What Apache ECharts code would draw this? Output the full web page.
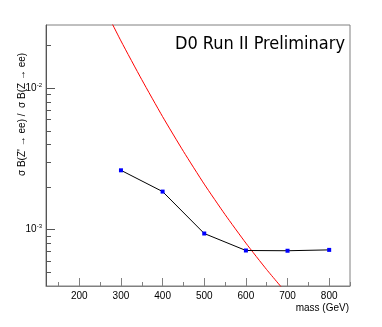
<!DOCTYPE html>
<html>
<head>
<meta charset="utf-8">
<script src="https://cdn.jsdelivr.net/npm/echarts@6/dist/echarts.min.js"></script>
<style>
  html, body { margin: 0; padding: 0; background: #fff; }
  #chart { width: 382px; height: 327px; }
</style>
</head>
<body>
<div id="chart"></div>
<script>
// limit points (blue markers, black line)
const massPoints = [300, 400, 500, 600, 700, 800];
const limitValues = [2.63e-3, 1.86e-3, 9.4e-4, 7.13e-4, 7.1e-4, 7.2e-4];

// theory curve (red)
const theoryMass = [250, 300, 350, 400, 450, 500, 550, 600, 650, 700];
const theoryValues = [0.0422, 0.0216, 0.0115, 6.30e-3, 3.58e-3, 2.10e-3, 1.28e-3, 8.04e-4, 5.22e-4, 3.49e-4];

// axis ticks / labels
const xMajor = [200, 300, 400, 500, 600, 700, 800];
const xMinor = [150, 250, 350, 450, 550, 650, 750, 850];
const yMajor = [1e-3, 1e-2];
const yMinor = [5e-4, 6e-4, 7e-4, 8e-4, 9e-4, 2e-3, 3e-3, 4e-3, 5e-3, 6e-3, 7e-3, 8e-3, 9e-3, 2e-2];

const chart = echarts.init(document.getElementById('chart'));
const axisColor = '#808080';
const font = 'Liberation Sans, Arial, sans-serif';

const xBase = {
  type: 'value', min: 120, max: 850, position: 'bottom',
  splitLine: { show: false }
};
const yBase = {
  type: 'log', logBase: 10, min: 4e-4, max: 0.028, position: 'left',
  splitLine: { show: false }, minorTick: { show: false }
};

const option = {
  animation: false,
  grid: {
    left: 46, top: 25, right: 32, bottom: 41,
    show: true, borderColor: axisColor, borderWidth: 1, backgroundColor: 'transparent'
  },
  xAxis: [
    Object.assign({}, xBase, {
      axisLine: { show: true, lineStyle: { color: axisColor, width: 1 } },
      axisTick: { show: true, inside: true, length: 4, customValues: xMinor, lineStyle: { color: axisColor } },
      axisLabel: { customValues: xMajor, color: '#000', fontSize: 10, fontFamily: font, margin: 5 }
    }),
    Object.assign({}, xBase, {
      axisLine: { show: false },
      axisTick: { show: true, inside: true, length: 8, customValues: xMajor, lineStyle: { color: axisColor } },
      axisLabel: { show: false }
    })
  ],
  yAxis: [
    Object.assign({}, yBase, {
      axisLine: { show: true, lineStyle: { color: '#555', width: 1 } },
      axisTick: { show: true, inside: true, length: 5, customValues: yMinor, lineStyle: { color: '#555' } },
      axisLabel: {
        customValues: yMajor, margin: 4,
        formatter: function (v) {
          return '{b|10}{s|' + Math.round(Math.log10(v)) + '}';
        },
        rich: {
          b: { fontSize: 10, fontFamily: font, color: '#000' },
          s: { fontSize: 6, fontFamily: font, color: '#000', verticalAlign: 'top', padding: [0, 0, 6, 0] }
        }
      }
    }),
    Object.assign({}, yBase, {
      axisLine: { show: false },
      axisTick: { show: true, inside: true, length: 9, customValues: yMajor, lineStyle: { color: '#555' } },
      axisLabel: { show: false }
    })
  ],
  series: [
    {
      name: 'theory', type: 'line', xAxisIndex: 0, yAxisIndex: 0,
      data: theoryMass.map((m, i) => [m, theoryValues[i]]),
      showSymbol: false, symbol: 'none', clip: true, smooth: 0.2,
      lineStyle: { color: '#ff0000', width: 1 }
    },
    {
      name: 'limit', type: 'line', xAxisIndex: 0, yAxisIndex: 0,
      data: massPoints.map((m, i) => [m, limitValues[i]]),
      symbol: 'rect', symbolSize: 4, clip: true,
      itemStyle: { color: '#0000ff' },
      lineStyle: { color: '#000', width: 1 }
    }
  ],
  graphic: [
    {
      type: 'text', right: 37, top: 35,
      style: { text: 'D0 Run II Preliminary', font: '18px "DejaVu Sans Condensed", "DejaVu Sans", sans-serif', fill: '#000' }
    },
    {
      type: 'text', right: 33, top: 303,
      style: { text: 'mass (GeV)', font: '10px ' + font, fill: '#000' }
    },
    {
      type: 'text', x: 17, y: 176, rotation: Math.PI / 2,
      style: { text: 'σ B(Z\' → ee) /  σ B(Z → ee)', font: '10px ' + font, fill: '#000', textAlign: 'left', textVerticalAlign: 'top' }
    }
  ]
};

chart.setOption(option);
window.addEventListener('resize', () => chart.resize());
</script>
</body>
</html>
